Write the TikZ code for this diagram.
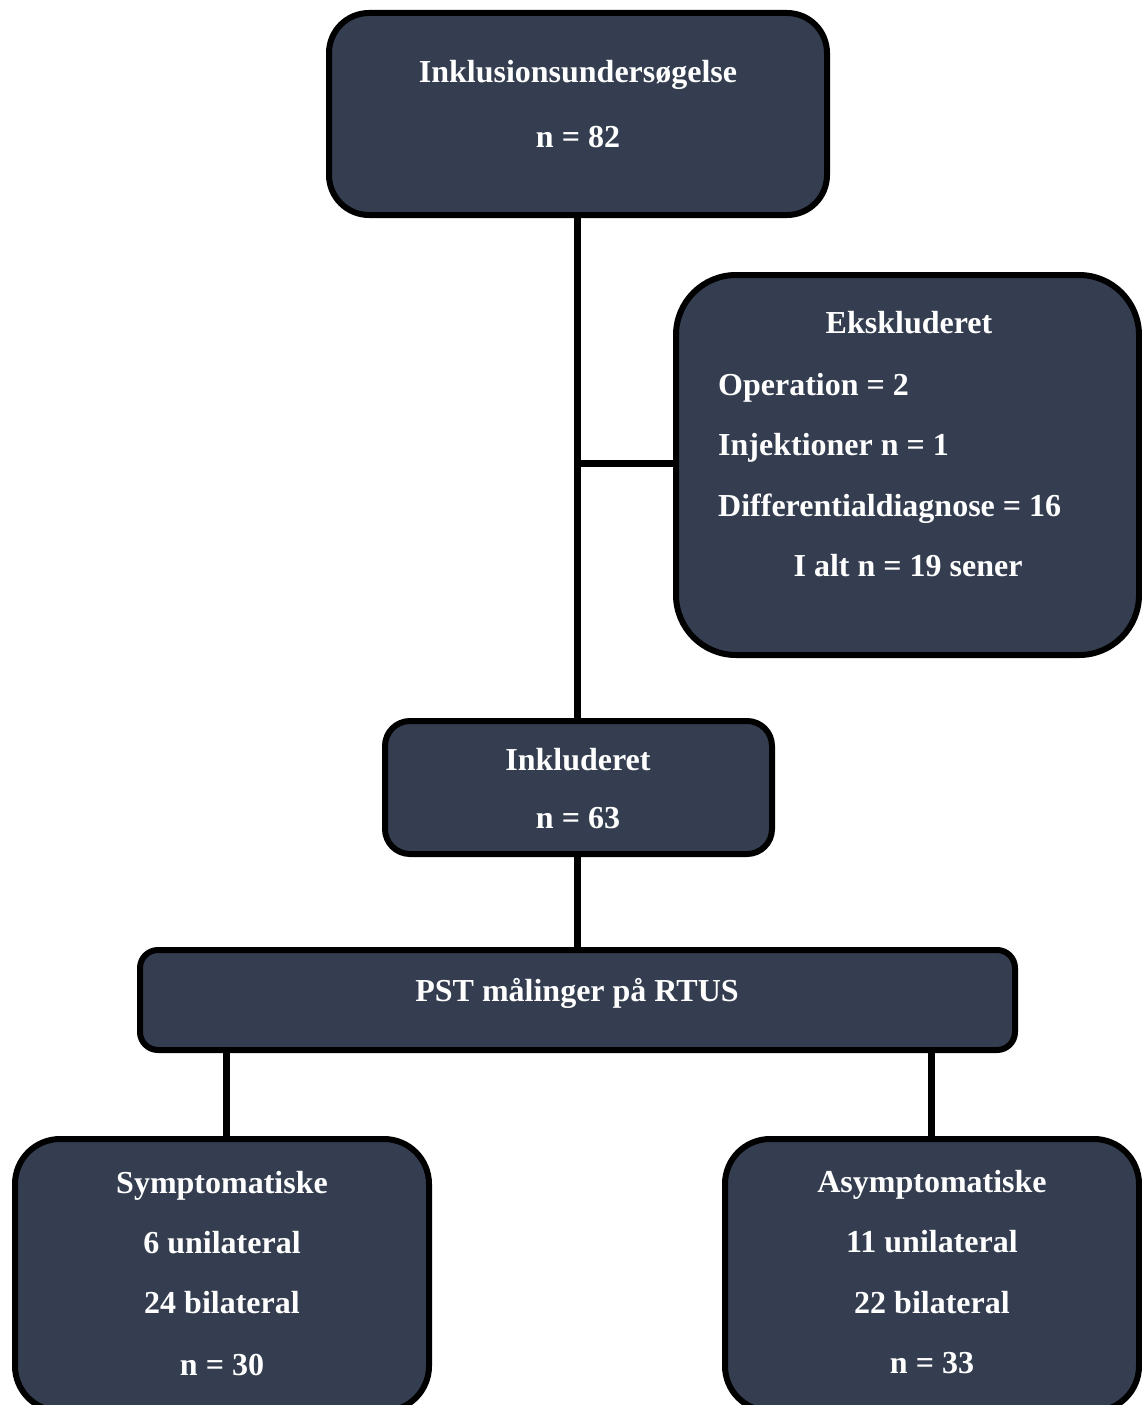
\documentclass[tikz,border=0pt]{standalone}
\usepackage{fontspec}
\setmainfont{Liberation Serif}
\usepackage{xcolor}
\definecolor{boxfill}{HTML}{343E50}
\tikzset{
  box/.style={draw=black, line width=6pt, fill=boxfill, rounded corners=#1, inner sep=0pt},
  txt/.style={text=white, font=\fontsize{32}{38}\selectfont\bfseries, inner sep=0pt, anchor=base},
  link/.style={line width=7pt}
}

\begin{document}
\begin{tikzpicture}[x=1pt,y=-1pt]
\useasboundingbox (0,0) rectangle (1141,1405);
\node[box=40pt, minimum width=498pt, minimum height=202pt] (top) at (578,114) {};
\node[box=60pt, minimum width=463pt, minimum height=380pt] (eks) at (907.5,465) {};
\node[box=25pt, minimum width=387pt, minimum height=133pt] (inkl) at (578.5,787.5) {};
\node[box=18pt, minimum width=875pt, minimum height=100pt] (pst) at (577.5,1000) {};
\node[box=45pt, minimum width=414pt, minimum height=272pt] (sym) at (222,1275) {};
\node[box=45pt, minimum width=414pt, minimum height=272pt] (asym) at (932,1275) {};
% forbindelser
\coordinate (j) at (577,463);
\draw[link] ([xshift=-1pt]top.south) -- ([xshift=-1pt]top.south |- inkl.north);
\draw[link] (j) -- (j -| eks.west);
\draw[link] ([xshift=-1pt]inkl.south) -- ([xshift=-1pt]inkl.south |- pst.north);
\draw[link] ([xshift=4pt]sym.north) -- ([xshift=4pt]sym.north |- pst.south);
\draw[link] ([xshift=-1pt]asym.north) -- ([xshift=-1pt]asym.north |- pst.south);
% tekster
\node[txt] (top1) at (578,82) {Inklusionsundersøgelse};
\node[txt] (top2) at (578,147) {n = 82};
\node[txt] (eks1) at (909,333) {Ekskluderet};
\node[txt, anchor=base west] (eks2) at (718,395) {Operation = 2};
\node[txt, anchor=base west] (eks3) at (718,455) {Injektioner n = 1};
\node[txt, anchor=base west] (eks4) at (718,516) {Differentialdiagnose = 16};
\node[txt] (eks5) at (908,576) {I alt n = 19 sener};
\node[txt] (inkl1) at (578,770) {Inkluderet};
\node[txt] (inkl2) at (578,828) {n = 63};
\node[txt] (pst1) at (577,1001) {PST målinger på RTUS};
\node[txt] (sym1) at (222,1193) {Symptomatiske};
\node[txt] (sym2) at (222,1253) {6 unilateral};
\node[txt] (sym3) at (222,1313) {24 bilateral};
\node[txt] (sym4) at (222,1375) {n = 30};
\node[txt] (asym1) at (932,1192) {Asymptomatiske};
\node[txt] (asym2) at (932,1252) {11 unilateral};
\node[txt] (asym3) at (932,1313) {22 bilateral};
\node[txt] (asym4) at (932,1373) {n = 33};
\end{tikzpicture}
\end{document}
